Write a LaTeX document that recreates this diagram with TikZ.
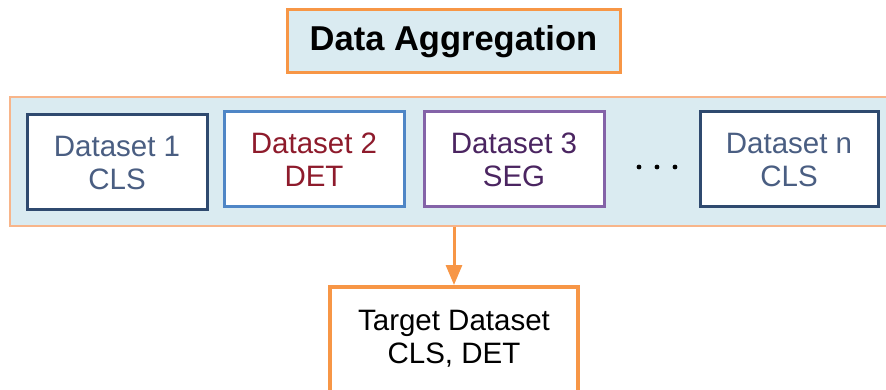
\documentclass[tikz,border=0pt]{standalone}
\usepackage{fontspec}
\setmainfont{Liberation Sans}
\usetikzlibrary{arrows.meta}
\definecolor{panel}{HTML}{DAEBF1}
\definecolor{orangeedge}{HTML}{F79646}
\definecolor{orangesoft}{HTML}{F8B58A}
\definecolor{navyedge}{HTML}{2F4A6F}
\definecolor{navytext}{HTML}{4A5E82}
\definecolor{blueedge}{HTML}{4F86C6}
\definecolor{redtext}{HTML}{8E1B2C}
\definecolor{purpleedge}{HTML}{8463A8}
\definecolor{purpletext}{HTML}{4B2561}
\tikzset{
  setbox/.style={draw, line width=3pt, fill=white, minimum width=180pt,
    minimum height=95pt, align=center, inner sep=0pt,
    font=\fontsize{29.5}{33}\selectfont},
  flow/.style={draw=orangeedge, line width=3pt,
    -{Triangle[length=20pt,width=16pt]}}
}
\begin{document}
\begin{tikzpicture}[x=1pt,y=-1pt]
\useasboundingbox (0,0) rectangle (886,390);
\clip (0,0) rectangle (886,390);
% title
\node[draw=orangeedge, line width=3pt, fill=panel, minimum width=333pt,
  minimum height=63pt, inner sep=0pt, font=\fontsize{34.5}{38}\selectfont\bfseries]
  (title) at (453.5,41.5) {Data Aggregation};
% panel holding the source datasets
\node[draw=orangesoft, line width=1.5pt, fill=panel, minimum width=880pt,
  minimum height=129pt, inner sep=0pt] (band) at (450,161.5) {};
\node[setbox, draw=navyedge, text=navytext] (d1) at (117,162.5) {Dataset 1\\CLS};
\node[setbox, draw=blueedge, text=redtext] (d2) at (314,159.5) {Dataset 2\\DET};
\node[setbox, draw=purpleedge, text=purpletext] (d3) at (514,159.5) {Dataset 3\\SEG};
\node[setbox, draw=navyedge, text=navytext, minimum width=178pt] (dn) at (789,159.5) {Dataset n\\CLS};
% ellipsis between the boxes
\foreach \px in {639,657,675} \fill (\px,167) circle (2.4pt);
% target
\node[draw=orangeedge, line width=4pt, fill=white, minimum width=248pt,
  minimum height=112pt, inner sep=0pt] (target) at (454,343) {};
\node[align=center, font=\fontsize{29.5}{33}\selectfont, inner sep=0pt]
  (ttext) at (454,339) {Target Dataset\\CLS, DET};
\draw[flow] (target.north |- band.south) -- (target.north);
\end{tikzpicture}
\end{document}
